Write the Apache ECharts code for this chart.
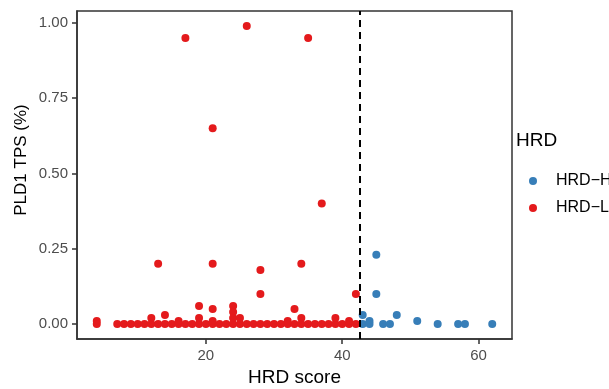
<!DOCTYPE html>
<html>
<head>
<meta charset="utf-8">
<script src="https://cdn.jsdelivr.net/npm/echarts@6/dist/echarts.min.js"></script>
<style>
  html, body { margin: 0; padding: 0; background: #fff; }
  #chart { width: 609px; height: 389px; }
</style>
</head>
<body>
<div id="chart"></div>
<script>
// HRD-H group (blue)
const highX = [43, 43, 44, 44, 45, 45, 46, 47, 48, 51, 54, 57, 58, 62];
const highY = [0.03, 0, 0.01, 0, 0.23, 0.10, 0, 0, 0.03, 0.01, 0, 0, 0, 0];

// HRD-L group (red)
const lowX = [4, 4,
  7, 8, 9, 10, 11, 12, 13, 14, 15, 16, 17, 18, 19, 20, 21, 22, 23, 24, 25,
  26, 27, 28, 29, 30, 31, 32, 33, 34, 35, 36, 37, 38, 39, 40, 41, 42,
  12, 14, 16, 19, 19, 21, 21, 24, 24, 24, 25, 32, 33, 34, 39, 41,
  13, 21, 28, 34, 28, 42, 21, 37, 17, 26, 35];
const lowY = [0.01, 0,
  0, 0, 0, 0, 0, 0, 0, 0, 0, 0, 0, 0, 0, 0, 0, 0, 0, 0, 0,
  0, 0, 0, 0, 0, 0, 0, 0, 0, 0, 0, 0, 0, 0, 0, 0, 0,
  0.02, 0.03, 0.01, 0.06, 0.02, 0.05, 0.01, 0.06, 0.04, 0.02, 0.02, 0.01, 0.05, 0.02, 0.02, 0.01,
  0.20, 0.20, 0.18, 0.20, 0.10, 0.10, 0.65, 0.40, 0.95, 0.99, 0.95];

const xTicks = [20, 40, 60];
const yTicks = [0, 0.25, 0.5, 0.75, 1];
const cutoff = 42.5;

const zip = (xs, ys) => xs.map((x, i) => [x, ys[i]]);

const chart = echarts.init(document.getElementById('chart'));
const font = 'Liberation Sans, Arial, sans-serif';

chart.setOption({
  animation: false,
  textStyle: { fontFamily: font },
  grid: {
    left: 77, right: 97, top: 11, bottom: 50,
    show: true, borderColor: '#333', borderWidth: 1.5,
    outerBoundsMode: 'none'
  },
  title: {
    text: 'HRD', left: 516, top: 131, padding: 0,
    textStyle: { fontSize: 19, fontWeight: 'normal', color: '#000', fontFamily: font }
  },
  // y axis title sits a little above the panel centre in the reference
  graphic: [{
    type: 'text', x: 21, y: 160, rotation: Math.PI / 2,
    style: {
      text: 'PLD1 TPS (%)', fontSize: 17, fill: '#000', fontFamily: font,
      textAlign: 'center', textVerticalAlign: 'middle'
    }
  }],
  legend: {
    orient: 'vertical', left: 529, top: 173, itemGap: 11, padding: 0,
    icon: 'circle', itemWidth: 8, itemHeight: 8,
    textStyle: { fontSize: 16, color: '#000', fontFamily: font, padding: [0, 0, 0, 14] },
    data: ['HRD\u2212H', 'HRD\u2212L']
  },
  xAxis: {
    type: 'value', min: 1.1, max: 64.9,
    name: 'HRD score', nameLocation: 'middle', nameGap: 28,
    nameTextStyle: { fontSize: 19, color: '#000', fontFamily: font },
    splitLine: { show: false },
    axisLine: { show: true, onZero: false, lineStyle: { color: '#333', width: 1.5 } },
    axisTick: { show: true, length: 5, customValues: xTicks, lineStyle: { color: '#333', width: 1.5 } },
    axisLabel: { customValues: xTicks, fontSize: 15, color: '#4d4d4d', margin: 9, fontFamily: font }
  },
  yAxis: {
    type: 'value', min: -0.0495, max: 1.0395,
    splitLine: { show: false },
    axisLine: { show: true, onZero: false, lineStyle: { color: '#333', width: 1.5 } },
    axisTick: { show: true, length: 5, customValues: yTicks, lineStyle: { color: '#333', width: 1.5 } },
    axisLabel: {
      customValues: yTicks, fontSize: 15, color: '#4d4d4d', margin: 9, fontFamily: font,
      formatter: v => v.toFixed(2)
    }
  },
  series: [
    {
      name: 'HRD\u2212H', type: 'scatter', symbolSize: 8,
      itemStyle: { color: '#377EB8', opacity: 1 },
      data: zip(highX, highY)
    },
    {
      name: 'HRD\u2212L', type: 'scatter', symbolSize: 8,
      itemStyle: { color: '#E41A1C', opacity: 1 },
      data: zip(lowX, lowY),
      markLine: {
        silent: true, symbol: 'none', label: { show: false },
        lineStyle: { color: '#000', type: [7, 5], width: 2 },
        data: [{ xAxis: cutoff }]
      }
    }
  ]
});
</script>
</body>
</html>
